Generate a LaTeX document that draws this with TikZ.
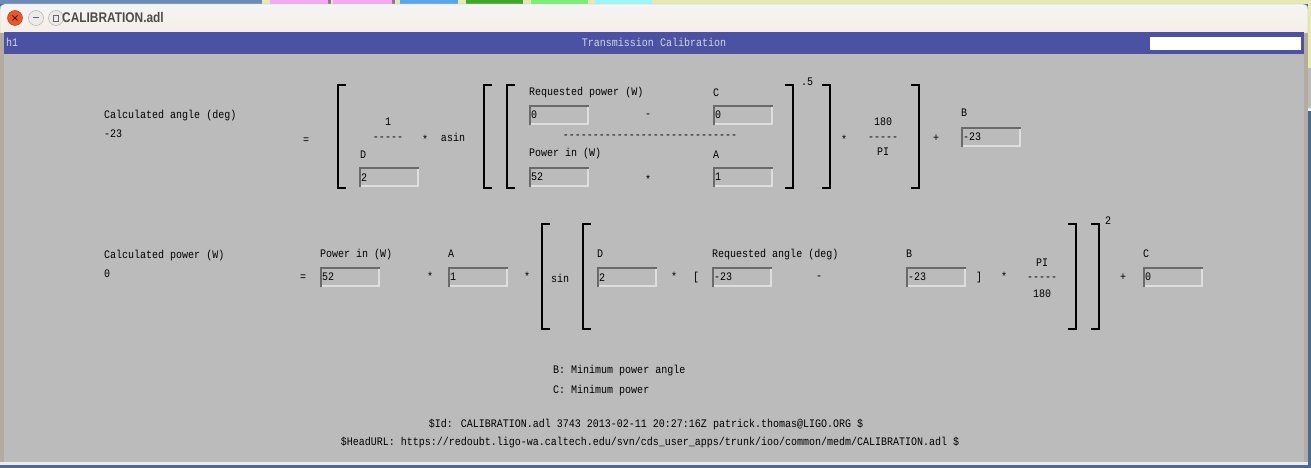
\documentclass[tikz,border=0pt]{standalone}
\usepackage{fontspec}
\newfontfamily\monofam[FakeStretch=0.87,Ligatures=TeXOff]{Liberation Mono}
\newfontfamily\titlefam[FakeStretch=0.85]{Liberation Sans Bold}
\newcommand\mymono{\monofam\fontsize{11.5}{13}\selectfont}
\definecolor{bg}{HTML}{BBBBBB}
\definecolor{barblue}{HTML}{4B52A3}
\definecolor{winframe}{HTML}{B5ABA1}
\definecolor{darkiii}{HTML}{6A6A6A}
\definecolor{lightiii}{HTML}{DEDEDE}
\definecolor{deskblue}{HTML}{4A6A92}
\definecolor{deskblueii}{HTML}{6B8CB9}
\definecolor{deskyellow}{HTML}{E6EAB2}
\definecolor{tabpink}{HTML}{F7A8F2}
\definecolor{tabpurple}{HTML}{9E6C9E}
\definecolor{tabblue}{HTML}{55A5F0}
\definecolor{tabgreen}{HTML}{3CAA22}
\definecolor{tablgreen}{HTML}{78F070}
\definecolor{tabcyan}{HTML}{98F8F8}
\definecolor{bartext}{HTML}{D4D4E4}
\definecolor{titletext}{HTML}{4C4C4C}
\definecolor{closered}{HTML}{E8562A}
\begin{document}
\begin{tikzpicture}[x=1pt,y=-1pt,
  t/.style={anchor=base west,inner sep=0,font=\mymono},
  tc/.style={anchor=base,inner sep=0,font=\mymono},
  entry/.style={anchor=north west,minimum width=60,minimum height=20,inner xsep=2,inner ysep=0,text width=56,align=left,fill=bg,font=\mymono},
  brk/.style={line width=1.6,black},
  winbtn/.style={circle,minimum size=15,inner sep=0,fill=#1,draw=black!35},
]
\useasboundingbox (0,0) rectangle (1311,468);
% desktop and surroundings
\fill[deskblue] (0,0) rectangle (1311,468);
\fill[deskyellow] (262,0) rectangle (1311,4);
\fill[deskblueii] (0,0) rectangle (262,4);
\fill[tabpink] (270,0) rectangle (328,4);
\fill[tabpurple] (328,0) rectangle (331,4);
\fill[tabpink] (333,0) rectangle (392,4);
\fill[tabpurple] (392,0) rectangle (395,4);
\fill[tabblue] (400,0) rectangle (458,4);
\fill[tabgreen] (466,0) rectangle (523,4);
\fill[tablgreen] (531,0) rectangle (588,4);
\fill[tabcyan] (595,0) rectangle (652,4);
\fill[deskyellow] (1308,0) rectangle (1311,68);
\fill[bg] (1308,68) rectangle (1311,108);
\fill[white!94!black] (1308,108) rectangle (1311,111);
% window frame
\fill[winframe] (0,6) rectangle (1308,465);
\fill[white!92!black] (0,462) rectangle (1308,465);
\shade[top color=white!96!black,bottom color=white!86!brown,draw=black!30] (0,33) [rounded corners=5] -- (0,4) -- (1308,4) [sharp corners] -- (1308,33) -- cycle;
% window buttons
\node[winbtn=closered,draw=closered!70!black] (close) at (15,18) {};
\draw[black!70!closered,line width=1] ([shift={(-2.5,-2.5)}]close.center) -- ([shift={(2.5,2.5)}]close.center) ([shift={(-2.5,2.5)}]close.center) -- ([shift={(2.5,-2.5)}]close.center);
\node[winbtn=white!92!black] (minb) at (36,18) {};
\draw[black!60,line width=1] ([xshift=-3]minb.center) -- ([xshift=3]minb.center);
\node[winbtn=white!92!black] (maxb) at (56,18) {};
\draw[black!60,line width=0.8] ([shift={(-2.5,-3)}]maxb.center) rectangle ([shift={(2.5,3)}]maxb.center);
\node[anchor=base west,inner sep=0,text=titletext,font=\titlefam\fontsize{14}{16}\selectfont] (wtitle) at (62,23) {CALIBRATION.adl};
% title bar of display
\fill[barblue] (4,32) rectangle (1304,54);
\fill[white] (1150,37) rectangle (1301,50);
\node[t,text=bartext] (h1) at (6,47) {h1};
\node[tc,text=bartext] (dtitle) at (654,47) {Transmission Calibration};
% main display area
\fill[bg] (4,54) rectangle (1304,462);
% brackets
\foreach \x/\d/\a/\b in {338/8/85/188, 484/8/85/188, 507/8/85/188, 793/-8/85/188, 830/-8/85/188, 919/-8/85/188,
                         542/8/224/329, 583/8/224/329, 1076/-8/224/329, 1099/-8/224/329}
  \draw[brk] ({\x+\d},\a) -- (\x,\a) -- (\x,\b) -- ({\x+\d},\b);
% text entries
\foreach \n/\x/\y/\v in {eD/359/167/2, eRP/529/105/0, ePin/529/167/52, eC/713/105/0, eA/713/167/1, eB/961/127/-23,
                         ePinb/320/267/52, eAb/448/267/1, eDb/597/267/2, eRA/712/267/-23, eBb/906/267/-23, eCb/1143/267/0} {
  \node[entry] (\n) at (\x,\y) {\v};
  \draw[lightiii,line width=2] ([yshift=1]\n.south west) -- ([yshift=1]\n.south east)
                               ([xshift=-1]\n.south east) -- ([xshift=-1]\n.north east);
  \draw[darkiii,line width=2] ([xshift=1]\n.south west) -- ([xshift=1]\n.north west)
                              ([yshift=-1]\n.north west) -- ([yshift=-1]\n.north east);
}
% row 1
\node[t] (calcA) at (104,118) {Calculated angle (deg)};
\node[t] (valA) at (104,137) {-23};
\node[tc] (eqA) at (306,143) {=};
\node[tc] (oneA) at (388,125) {1};
\node[tc] (dashD) at (388,140.5) {-----};
\node[t] (labD) at (360,158) {D};
\node[tc] (stA) at (425,143) {*};
\node[tc] (asin) at (453,141) {asin};
\node[t] (labRP) at (529,96) {Requested power (W)};
\node[tc] (minA) at (648,117.5) {-};
\node[tc] (dashF) at (650,138.5) {-----------------------------};
\node[t] (labPin) at (529,157) {Power in (W)};
\node[tc] (stB) at (648,183) {*};
\node[t] (labC) at (713,97) {C};
\node[t] (labA) at (713,158) {A};
\node[t] (powh) at (801,86) {.5};
\node[tc] (stC) at (844,143) {*};
\node[tc] (n180) at (883,125) {180};
\node[tc] (dashPI) at (883,140.5) {-----};
\node[tc] (piA) at (883,155) {PI};
\node[tc] (plA) at (936,142) {+};
\node[t] (labB) at (961,117) {B};
% row 2
\node[t] (calcP) at (104,258) {Calculated power (W)};
\node[t] (valP) at (104,277) {0};
\node[tc] (eqB) at (303,280) {=};
\node[t] (labPinb) at (320,257) {Power in (W)};
\node[tc] (stD) at (430,280) {*};
\node[t] (labAb) at (448,257) {A};
\node[tc] (stE) at (527,280) {*};
\node[tc] (sin) at (560,282) {sin};
\node[t] (labDb) at (597,257) {D};
\node[tc] (stF) at (674,280) {*};
\node[tc] (lsq) at (696,280.5) {[};
\node[t] (labRA) at (712,257) {Requested angle (deg)};
\node[tc] (minB) at (819,279.5) {-};
\node[t] (labBb) at (906,257) {B};
\node[tc] (rsq) at (979,280.5) {]};
\node[tc] (stG) at (1004,280) {*};
\node[tc] (piB) at (1042,266) {PI};
\node[tc] (dashPIb) at (1042,280.5) {-----};
\node[tc] (n180b) at (1042,297) {180};
\node[t] (sqr) at (1105,224) {2};
\node[tc] (plB) at (1123,280) {+};
\node[t] (labCb) at (1143,257) {C};
% notes
\node[t] (noteB) at (553,373) {B: Minimum power angle};
\node[t] (noteC) at (553,393) {C: Minimum power};
\node[tc] (idline) at (646,427) {\$Id: CALIBRATION.adl 3743 2013-02-11 20:27:16Z patrick.thomas@LIGO.ORG \$};
\node[tc] (urlline) at (650,445) {\$HeadURL: https://redoubt.ligo-wa.caltech.edu/svn/cds\_user\_apps/trunk/ioo/common/medm/CALIBRATION.adl \$};
\end{tikzpicture}
\end{document}
